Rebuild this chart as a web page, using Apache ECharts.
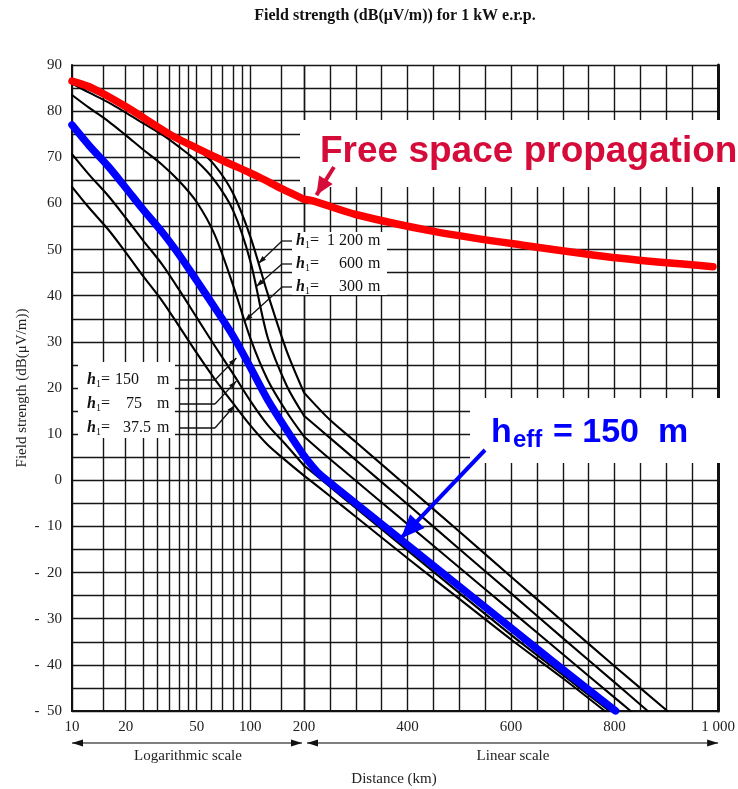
<!DOCTYPE html>
<html><head><meta charset="utf-8">
<script src="https://cdn.jsdelivr.net/npm/echarts@6/dist/echarts.min.js"></script>
<style>html,body{margin:0;padding:0;background:#fff}#c{width:738px;height:789px}</style>
</head><body><div id="c"></div>
<script>
// ---------- tick values / labels ----------
const logTickValues = [10,15,20,25,30,35,40,45,50,60,70,80,90,100,150,200];
const logLabelValues = [10,20,50,100,200];
const linLabelValues = [400,600,800,1000];
const yLabelValues = [-50,-40,-30,-20,-10,0,10,20,30,40,50,60,70,80,90];

// ---------- series values (distance km, field dB(uV/m)) ----------
const freeSpaceDist  = [10, 13, 20, 36, 50, 70, 100, 116, 150, 200, 219, 300, 453, 620, 812, 990];
const freeSpaceField = [86.5, 85.0, 81.0, 74.8, 72.0, 69.3, 66.6, 65.4, 63.2, 60.9, 60.5, 57.6, 53.9, 51.0, 48.1, 46.3];

const h1200Dist  = [10, 20, 36, 50, 63, 80, 100, 125, 160, 200, 250, 300, 400, 500, 600, 700, 800, 902];
const h1200Field = [86.3, 80.8, 74.6, 71.8, 68.3, 62.2, 52.8, 40.5, 28.0, 19.0, 13.1, 8.3, -1.4, -11.1, -20.9, -30.6, -40.3, -50];

const h600Dist  = [10, 12.5, 16, 20, 25, 32, 40, 50, 63, 80, 100, 125, 160, 200, 250, 300, 400, 500, 600, 700, 800, 864];
const h600Field = [86.0, 84.0, 81.9, 79.7, 77.4, 74.9, 72.2, 69.2, 65.0, 58.5, 47.5, 31.0, 20.5, 14.0, 9.2, 4.4, -5.2, -14.9, -24.5, -34.2, -43.8, -50];

const h300Dist  = [10, 12.5, 16, 20, 25, 32, 40, 50, 63, 80, 100, 125, 160, 200, 250, 300, 400, 500, 600, 700, 800, 831];
const h300Field = [83.5, 80.7, 77.8, 74.8, 71.7, 68.4, 64.8, 60.3, 53.3, 42.3, 30.8, 21.8, 14.8, 9.5, 4.6, -0.1, -9.5, -18.9, -28.3, -37.7, -47.1, -50];

const h150Dist  = [10, 12.5, 16, 20, 25, 32, 40, 50, 63, 80, 100, 125, 160, 200, 225, 250, 300, 400, 500, 600, 700, 802];
const h150Field = [77.0, 72.5, 68.0, 63.4, 58.7, 53.8, 48.8, 43.3, 37.5, 31.3, 24.5, 17.5, 10.9, 5.3, 1.9, -0.5, -5.0, -14.0, -23.0, -32.0, -41.0, -50];

const h75Dist  = [10, 12.5, 16, 20, 25, 32, 40, 50, 63, 80, 100, 125, 160, 200, 250, 300, 400, 500, 600, 700, 790];
const h75Field = [70.7, 66.2, 61.6, 56.9, 52.0, 46.8, 41.2, 35.3, 29.2, 23.1, 17.2, 12.0, 7.5, 3.2, -1.4, -6.0, -15.2, -24.4, -33.5, -42.2, -50];

const h37Dist  = [10, 12.5, 16, 20, 25, 32, 40, 50, 63, 80, 100, 125, 160, 200, 250, 300, 400, 500, 600, 700, 781];
const h37Field = [63.6, 59.0, 54.3, 49.4, 44.3, 38.9, 33.3, 27.6, 22.0, 16.7, 11.9, 7.7, 4.1, 1.0, -3.4, -7.9, -16.9, -25.7, -34.5, -42.9, -50];

// annotation anchors (data coordinates the pointers touch)
const h1UpperPointers = [[111, 47.0], [108, 42.0], [93, 34.5]];
const h1UpperLabels = ['1 200', '600', '300'];
const h1LowerPointers = [[83.5, 26.5], [83.5, 21.5], [81.6, 16.2]];
const h1LowerLabels = ['150', '75', '37.5'];
const freeSpacePointer = [224, 61.8];
const heffPointer = [387, -12.6];

// ---------- build ----------
const serif = '"Liberation Serif","Times New Roman",serif';
const sans = '"Liberation Sans",Arial,sans-serif';
const gridLine = {color: '#161616', width: 1.4};

const curves = [
  {dist: h37Dist, field: h37Field, color: '#000', width: 2.1, z: 3},
  {dist: h75Dist, field: h75Field, color: '#000', width: 2.1, z: 3},
  {dist: h300Dist, field: h300Field, color: '#000', width: 2.1, z: 3},
  {dist: h600Dist, field: h600Field, color: '#000', width: 2.1, z: 3},
  {dist: h1200Dist, field: h1200Field, color: '#000', width: 2.1, z: 3},
  {dist: h150Dist, field: h150Field, color: '#0000ff', width: 7.5, z: 5},
  {dist: freeSpaceDist, field: freeSpaceField, color: '#ff0000', width: 7.5, z: 6}
];

const series = [];
curves.forEach(c => {
  const left = [], right = [];
  c.dist.forEach((d, i) => {
    if (d <= 200) left.push([d, c.field[i]]);
    if (d >= 200) right.push([d, c.field[i]]);
  });
  [left, right].forEach((data, gi) => {
    series.push({
      type: 'line', xAxisIndex: gi, yAxisIndex: gi, data,
      showSymbol: false, symbol: 'none', smooth: 0.3, silent: true, z: c.z,
      lineStyle: {color: c.color, width: c.width, cap: 'round', join: 'round'}
    });
  });
});

const chart = echarts.init(document.getElementById('c'));
chart.setOption({
  animation: false,
  backgroundColor: '#fff',
  grid: [
    {left: 72, top: 65, width: 232, height: 646, show: false},
    {left: 304, top: 65, width: 417, height: 646, show: false}
  ],
  xAxis: [
    {gridIndex: 0, type: 'log', logBase: 10, min: 10, max: 200,
      axisLine: {show: true, onZero: false, lineStyle: {color: '#111', width: 2}},
      axisTick: {show: false, customValues: logTickValues},
      axisLabel: {customValues: logLabelValues, margin: 9, fontFamily: serif, fontSize: 15, color: '#222'},
      splitLine: {show: true, lineStyle: gridLine},
      minorTick: {show: false}, minorSplitLine: {show: false}},
    {gridIndex: 1, type: 'value', min: 200, max: 1000, interval: 50,
      axisLine: {show: true, onZero: false, lineStyle: {color: '#111', width: 2}},
      axisTick: {show: false},
      axisLabel: {customValues: linLabelValues, margin: 9, fontFamily: serif, fontSize: 15, color: '#222',
        formatter: v => v >= 1000 ? '1 000' : String(v)},
      splitLine: {show: true, lineStyle: gridLine}}
  ],
  yAxis: [
    {gridIndex: 0, type: 'value', min: -50, max: 90, interval: 5, position: 'left',
      name: 'Field strength (dB(\u03bcV/m))', nameLocation: 'middle', nameGap: 42, nameRotate: 90,
      nameTextStyle: {fontFamily: serif, fontSize: 15, color: '#222'},
      axisLine: {show: true, lineStyle: {color: '#111', width: 2}},
      axisTick: {show: false},
      axisLabel: {customValues: yLabelValues, margin: 10, fontFamily: serif, fontSize: 15, color: '#222',
        formatter: v => v < 0 ? '-  ' + (-v) : String(v)},
      splitLine: {show: true, lineStyle: gridLine}},
    {gridIndex: 1, type: 'value', min: -50, max: 90, interval: 5, position: 'right',
      axisLine: {show: true, lineStyle: {color: '#111', width: 3}},
      axisTick: {show: false}, axisLabel: {show: false},
      splitLine: {show: true, lineStyle: gridLine}}
  ],
  series
});

const P = (g, pt) => chart.convertToPixel({xAxisIndex: g, yAxisIndex: g}, pt);
function head(tip, from, len, hw, color) {
  const dx = tip[0] - from[0], dy = tip[1] - from[1];
  const L = Math.hypot(dx, dy), ux = dx / L, uy = dy / L;
  const bx = tip[0] - ux * len, by = tip[1] - uy * len;
  return {type: 'polygon', z: 120, silent: true,
    shape: {points: [tip, [bx - uy * hw, by + ux * hw], [bx + uy * hw, by - ux * hw]]},
    style: {fill: color}};
}
function seg(a, b, w, color) {
  return {type: 'line', z: 119, silent: true, shape: {x1: a[0], y1: a[1], x2: b[0], y2: b[1]},
    style: {stroke: color, lineWidth: w}};
}
function txt(x, y, text, font, color, align) {
  return {type: 'text', z: 121, silent: true, x, y,
    style: {text, font, fill: color, align: align || 'left', verticalAlign: 'middle'}};
}

const g = [];
// title
g.push(txt(395, 16, 'Field strength (dB(\u03bcV/m)) for 1 kW e.r.p.', 'bold 16px ' + serif, '#111', 'center'));

// bottom scale arrows
const x10 = P(0, [10, 0])[0], x200a = P(0, [200, 0])[0], x1000 = P(1, [1000, 0])[0];
const ya = 743;
g.push(seg([x10, ya], [x200a - 2, ya], 1.5, '#555'));
g.push(seg([x200a + 3, ya], [x1000, ya], 1.5, '#555'));
g.push(head([x10, ya], [x10 + 20, ya], 11, 3.5, '#111'));
g.push(head([x200a - 2, ya], [x200a - 22, ya], 11, 3.5, '#111'));
g.push(head([x200a + 3, ya], [x200a + 23, ya], 11, 3.5, '#111'));
g.push(head([x1000, ya], [x1000 - 20, ya], 11, 3.5, '#111'));
g.push(txt(188, 756, 'Logarithmic scale', '15px ' + serif, '#222', 'center'));
g.push(txt(513, 756, 'Linear scale', '15px ' + serif, '#222', 'center'));
g.push(txt(394, 779, 'Distance (km)', '15px ' + serif, '#222', 'center'));

// upper h1 labels
g.push({type: 'rect', z: 110, silent: true, shape: {x: 292, y: 232, width: 95, height: 63}, style: {fill: '#fff'}});
const upRows = [241, 264, 287];
h1UpperPointers.forEach((pt, i) => {
  const tip = P(0, pt), y = upRows[i];
  g.push(seg([292, y], [282, y], 1.3, '#111'));
  g.push(seg([282, y], tip, 1.3, '#111'));
  g.push(head(tip, [282, y], 8, 2.6, '#111'));
  g.push({type: 'text', z: 121, silent: true, x: 296, y,
    style: {text: '{h|h}{s|1}{e|=}', verticalAlign: 'middle', fill: '#111',
      rich: {h: {fontFamily: serif, fontStyle: 'italic', fontWeight: 'bold', fontSize: 16, lineHeight: 18, verticalAlign: 'middle'},
             s: {fontFamily: serif, fontSize: 10, lineHeight: 18, verticalAlign: 'bottom'},
             e: {fontFamily: serif, fontSize: 16, lineHeight: 18, verticalAlign: 'middle'}}}});
  g.push(txt(363, y, h1UpperLabels[i], '16px ' + serif, '#111', 'right'));
  g.push(txt(368, y, 'm', '16px ' + serif, '#111'));
});

// lower h1 labels
g.push({type: 'rect', z: 110, silent: true, shape: {x: 78, y: 362, width: 97, height: 76}, style: {fill: '#fff'}});
const lowRows = [380, 404, 428];
const lowNumX = [115, 126, 123];
h1LowerPointers.forEach((pt, i) => {
  const tip = P(0, pt), y = lowRows[i];
  g.push(seg([180, y], [215, y], 1.3, '#111'));
  g.push(seg([215, y], tip, 1.3, '#111'));
  g.push(head(tip, [215, y], 8, 2.6, '#111'));
  g.push({type: 'text', z: 121, silent: true, x: 87, y,
    style: {text: '{h|h}{s|1}{e|=}', verticalAlign: 'middle', fill: '#111',
      rich: {h: {fontFamily: serif, fontStyle: 'italic', fontWeight: 'bold', fontSize: 16, lineHeight: 18, verticalAlign: 'middle'},
             s: {fontFamily: serif, fontSize: 10, lineHeight: 18, verticalAlign: 'bottom'},
             e: {fontFamily: serif, fontSize: 16, lineHeight: 18, verticalAlign: 'middle'}}}});
  g.push(txt(lowNumX[i], y, h1LowerLabels[i], '16px ' + serif, '#111'));
  g.push(txt(157, y, 'm', '16px ' + serif, '#111'));
});

// Free space propagation
const red = '#d50c3a';
g.push({type: 'rect', z: 110, silent: true, shape: {x: 300, y: 120, width: 438, height: 67}, style: {fill: '#fff'}});
g.push(txt(320, 152, 'Free space propagation', 'bold 37px ' + sans, red));
const fsTip = P(1, freeSpacePointer);
const fsTail = [334, 167];
g.push(seg(fsTail, fsTip, 4, red));
g.push(head(fsTip, fsTail, 18, 8, red));

// h_eff = 150 m
const blue = '#0000ff';
g.push({type: 'rect', z: 110, silent: true, shape: {x: 470, y: 398, width: 268, height: 65}, style: {fill: '#fff'}});
g.push(txt(491, 433, 'h', 'bold 34px ' + sans, blue));
g.push(txt(513, 440, 'eff', 'bold 24px ' + sans, blue));
g.push(txt(553, 433, '= 150', 'bold 34px ' + sans, blue));
g.push(txt(658, 433, 'm', 'bold 34px ' + sans, blue));
const hTip = P(1, heffPointer);
const hTail = [485, 450];
g.push(seg(hTail, hTip, 4, blue));
g.push(head(hTip, hTail, 24, 10, blue));

chart.setOption({graphic: g});
</script></body></html>
